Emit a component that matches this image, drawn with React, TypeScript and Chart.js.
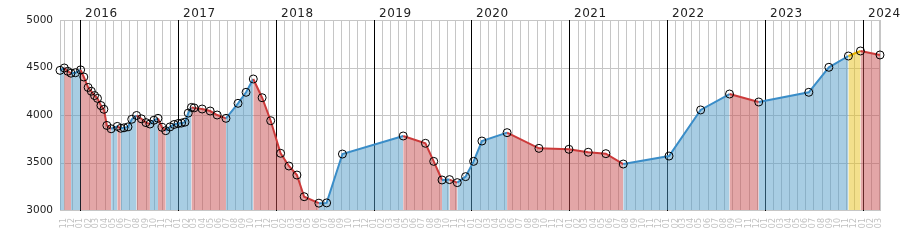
import React, { useEffect, useRef } from "react";
import { Chart, registerables } from "chart.js";

Chart.register(...registerables);

// ---- data ----
const dates = [
  "2015-10-17", "2015-11-02", "2015-11-15", "2015-11-27", "2015-12-14",
  "2016-01-02", "2016-01-14", "2016-01-30", "2016-02-11", "2016-02-23",
  "2016-03-05", "2016-03-18", "2016-03-29", "2016-04-09", "2016-04-25",
  "2016-05-18", "2016-05-31", "2016-06-12", "2016-06-27", "2016-07-11",
  "2016-07-29", "2016-08-16", "2016-09-02", "2016-09-17", "2016-10-02",
  "2016-10-17", "2016-11-01", "2016-11-15", "2016-12-01", "2016-12-16",
  "2016-12-31", "2017-01-13", "2017-01-26", "2017-02-07", "2017-02-19",
  "2017-03-01", "2017-03-31", "2017-04-30", "2017-05-26", "2017-06-28",
  "2017-08-12", "2017-09-11", "2017-10-08", "2017-11-10", "2017-12-12",
  "2018-01-18", "2018-02-18", "2018-03-20", "2018-04-16", "2018-06-10",
  "2018-07-09", "2018-09-06", "2019-04-21", "2019-07-13", "2019-08-13",
  "2019-09-13", "2019-10-11", "2019-11-09", "2019-12-10", "2020-01-09",
  "2020-02-09", "2020-05-13", "2020-09-09", "2020-12-30", "2021-03-12",
  "2021-05-17", "2021-07-21", "2022-01-08", "2022-05-06", "2022-08-22",
  "2022-12-09", "2023-06-14", "2023-08-28", "2023-11-09", "2023-12-24",
  "2024-03-06",
];

const values = [
  4470, 4495, 4460, 4440, 4445,
  4475, 4400, 4290, 4250, 4205,
  4175, 4100, 4060, 3890, 3855,
  3880, 3860, 3865, 3875, 3955,
  3995, 3960, 3920, 3905, 3945,
  3965, 3870, 3835, 3875, 3900,
  3910, 3915, 3925, 4020, 4080,
  4075, 4063, 4042, 4000, 3965,
  4123, 4239, 4379, 4182, 3940,
  3597, 3463, 3368, 3140, 3072,
  3075, 3589, 3779, 3702, 3512,
  3316, 3320, 3288, 3351, 3512,
  3726, 3814, 3649, 3639, 3608,
  3593, 3484, 3568, 4053, 4221,
  4137, 4239, 4502, 4621, 4674,
  4632,
];

// segments (by start date) drawn in the highlight colour
const highlightSegmentStarts = ["2023-11-09"];

const yTicks = [3000, 3500, 4000, 4500, 5000];
const yearLabels = [2016, 2017, 2018, 2019, 2020, 2021, 2022, 2023, 2024];
const monthLabels = ["01", "02", "03", "04", "05", "06", "07", "08", "09", "10", "11", "12"];

// ---- styles ----
const LINE = { up: "#3a8dc8", down: "#cc3a3a", hl: "#e8b400" };
const FILL = {
  up: "rgba(81,155,199,0.5)",
  down: "rgba(199,77,79,0.5)",
  hl: "rgba(231,193,25,0.5)",
};
const GRID = "#c6c6c6";

function ts(s: string): number {
  const [y, m, d] = s.split("-").map(Number);
  return Date.UTC(y, m - 1, d);
}

function monthTicks(min: number, max: number): number[] {
  const out: number[] = [];
  const a = new Date(min);
  let y = a.getUTCFullYear();
  let m = a.getUTCMonth() + 1;
  for (;;) {
    if (m > 11) { m = 0; y++; }
    const v = Date.UTC(y, m, 1);
    if (v > max) break;
    if (v >= min) out.push(v);
    m++;
  }
  return out;
}

function segKind(ctx: any): "up" | "down" | "hl" {
  const i = ctx.p0DataIndex;
  if (highlightSegmentStarts.includes(dates[i])) return "hl";
  return ctx.p1.parsed.y >= ctx.p0.parsed.y ? "up" : "down";
}

export default function App() {
  const ref = useRef<HTMLCanvasElement | null>(null);

  useEffect(() => {
    if (!ref.current) return;
    const xMin = ts(dates[0]);
    const xMax = ts(dates[dates.length - 1]);
    const mt = monthTicks(xMin, xMax);

    const gridPlugin = {
      id: "gridFrame",
      beforeDatasetsDraw(chart: any) {
        const { ctx, chartArea: a } = chart;
        const xs = chart.scales.x;
        const ys = chart.scales.y;
        const L = Math.round(a.left), R = Math.round(a.right);
        const T = Math.round(a.top), B = Math.round(a.bottom);
        ctx.save();
        ctx.lineWidth = 1;
        ctx.strokeStyle = GRID;
        ctx.beginPath();
        for (const v of yTicks) {
          const py = Math.round(ys.getPixelForValue(v)) + 0.5;
          ctx.moveTo(L, py);
          ctx.lineTo(R + 1, py);
        }
        for (const v of mt) {
          if (new Date(v).getUTCMonth() === 0) continue;
          const px = Math.round(xs.getPixelForValue(v)) + 0.5;
          ctx.moveTo(px, T);
          ctx.lineTo(px, B + 1);
        }
        ctx.moveTo(L + 0.5, T);
        ctx.lineTo(L + 0.5, B + 1);
        ctx.moveTo(R + 0.5, T);
        ctx.lineTo(R + 0.5, B + 1);
        ctx.stroke();
        ctx.strokeStyle = "#000";
        ctx.beginPath();
        for (const v of mt) {
          if (new Date(v).getUTCMonth() !== 0) continue;
          const px = Math.round(xs.getPixelForValue(v)) + 0.5;
          ctx.moveTo(px, T);
          ctx.lineTo(px, B + 1);
        }
        ctx.stroke();
        ctx.restore();
      },
    };

    const yearPlugin = {
      id: "years",
      afterDraw(chart: any) {
        const { ctx } = chart;
        const xs = chart.scales.x;
        ctx.save();
        ctx.fillStyle = "#222";
        ctx.font = "12px 'DejaVu Sans'";
        (ctx as any).letterSpacing = "0.5px";
        ctx.textAlign = "left";
        ctx.textBaseline = "alphabetic";
        for (const y of yearLabels) {
          const px = xs.getPixelForValue(Date.UTC(y, 0, 1));
          ctx.fillText(String(y), Math.round(px) + 5, 17);
        }
        ctx.restore();
      },
    };

    const chart = new Chart(ref.current, {
      type: "line",
      data: {
        datasets: [
          {
            data: dates.map((d, i) => ({ x: ts(d), y: values[i] })),
            borderWidth: 2,
            borderColor: LINE.up,
            backgroundColor: FILL.up,
            fill: "start",
            tension: 0,
            clip: false as any,
            pointRadius: 4,
            pointHoverRadius: 4,
            pointBorderWidth: 1,
            pointBorderColor: "#000",
            pointBackgroundColor: "rgba(0,0,0,0)",
            segment: {
              borderColor: (c: any) => LINE[segKind(c)],
              backgroundColor: (c: any) => FILL[segKind(c)],
            },
          } as any,
        ],
      },
      options: {
        animation: false,
        responsive: false,
        devicePixelRatio: 1,
        layout: { padding: { left: 0, right: 20, top: 20, bottom: 0 } },
        plugins: { legend: { display: false }, tooltip: { enabled: false } },
        scales: {
          x: {
            type: "linear",
            min: xMin,
            max: xMax,
            bounds: "data",
            afterBuildTicks: (s: any) => { s.ticks = mt.map((v) => ({ value: v })); },
            afterFit: (s: any) => { s.height = 40; },
            ticks: {
              autoSkip: false,
              minRotation: 90,
              maxRotation: 90,
              padding: 8,
              color: "#c0c0c0",
              font: { family: "DejaVu Sans", size: 8 },
              callback: (v: any) => monthLabels[new Date(Number(v)).getUTCMonth()],
            },
            grid: { display: false, drawTicks: false },
            border: { display: false },
          },
          y: {
            min: 3000,
            max: 5000,
            afterBuildTicks: (s: any) => { s.ticks = yTicks.map((v) => ({ value: v })); },
            afterFit: (s: any) => { s.width = 60; },
            ticks: {
              padding: 7,
              color: "#222",
              font: { family: "DejaVu Sans", size: 10.5 },
              callback: (v: any) => String(v),
            },
            grid: { display: false, drawTicks: false },
            border: { display: false },
          },
        },
      } as any,
      plugins: [gridPlugin, yearPlugin],
    });

    return () => chart.destroy();
  }, []);

  return (
    <div style={{ position: "fixed", left: 0, top: 0, width: 900, height: 250, background: "#fff" }}>
      <canvas ref={ref} width={900} height={250} style={{ display: "block", width: 900, height: 250 }} />
    </div>
  );
}
